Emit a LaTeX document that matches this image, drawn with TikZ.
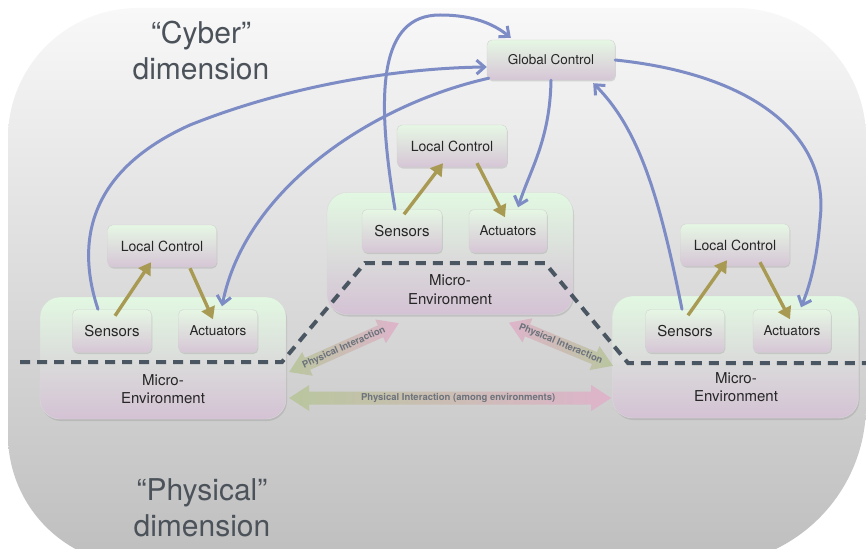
\documentclass[tikz,border=0pt]{standalone}
\usepackage{fontspec}
\setmainfont{TeX Gyre Heros}
\usetikzlibrary{calc,arrows.meta,shadows}
\definecolor{bluea}{HTML}{7E8CC6}
\definecolor{olivea}{HTML}{A89A52}
\definecolor{dashc}{HTML}{4B5663}
\definecolor{boxtop}{HTML}{E6F7E4}
\definecolor{boxbot}{HTML}{D6C6D6}
\definecolor{envtop}{HTML}{E2F8E2}
\definecolor{envbot}{HTML}{D4C2D4}
\definecolor{phgreen}{HTML}{B9C69E}
\definecolor{phpink}{HTML}{DEB4CB}
\definecolor{dimtext}{HTML}{4B525A}
\definecolor{labtext}{HTML}{6C737C}
\definecolor{bgtop}{HTML}{F8F8F8}
\definecolor{bgbot}{HTML}{BEBEBE}
\begin{document}
\begin{tikzpicture}[x=1pt,y=-1pt,
  smallbox/.style={rounded corners=5pt, top color=boxtop, bottom color=boxbot,
    draw=gray!35, line width=0.4pt,
    drop shadow={opacity=0.25,shadow xshift=0.8pt,shadow yshift=-1.5pt},
    inner sep=0pt, text=black!85, minimum height=42pt},
  envbox/.style={rounded corners=20pt, top color=envtop, bottom color=envbot,
    draw=gray!30, line width=0.4pt,
    drop shadow={opacity=0.25,shadow xshift=1pt,shadow yshift=-2pt},
    minimum width=246pt, minimum height=122pt, inner sep=0pt},
  envtext/.style={font=\fontsize{15}{18.5}\selectfont, align=center, text=black!85},
  dimlabel/.style={font=\fontsize{30}{36}\selectfont, align=center, text=dimtext},
  bluearr/.style={draw=bluea, line width=3pt, line cap=round,
    -{Straight Barb[length=8pt,width=14pt,line width=3pt]}},
  olivearr/.style={draw=olivea, line width=3.4pt, -{Triangle[length=12pt,width=14pt]}},
  dashline/.style={draw=dashc, line width=4pt, dash pattern=on 10pt off 7pt},
  phlabel/.style={font=\fontsize{9.5}{11}\selectfont\bfseries, text=labtext, inner sep=0pt, transform shape}
]
\useasboundingbox (0,0) rectangle (866,548);
% background
\shade[top color=bgtop, bottom color=bgbot]
  (8,138) arc(180:270:130) -- (736,8) arc(270:360:130) -- (866,405)
  arc(0:90:160) -- (138,565) arc(90:180:130) -- cycle;

\node[dimlabel] (cyber) at (201,51) {“Cyber”\\dimension};
\node[dimlabel] (physical) at (202,508) {“Physical”\\dimension};

% environments
\node[envbox] (lenv) at (163,358) {};
\node[envbox] (menv) at (450,253.5) {};
\node[envbox] (renv) at (735.5,357) {};
\node[envtext] (lenvt) at (163,389) {Micro-\\Environment};
\node[envtext] (menvt) at (450,289.5) {Micro-\\Environment};
\node[envtext] (renvt) at (736,387) {Micro-\\Environment};

% small boxes
\node[smallbox, minimum width=128pt, minimum height=40pt, font=\fontsize{13.5}{15}\selectfont] (global) at (551,60) {Global Control};
\node[smallbox, minimum width=110pt, font=\fontsize{14}{16}\selectfont] (mlc) at (452,146) {Local Control};
\node[smallbox, minimum width=109pt, font=\fontsize{14}{16}\selectfont] (llc) at (162,246) {Local Control};
\node[smallbox, minimum width=109pt, font=\fontsize{14}{16}\selectfont] (rlc) at (735,245) {Local Control};
\node[smallbox, minimum width=79pt, minimum height=43pt, font=\fontsize{15}{17}\selectfont] (lsens) at (112,331) {Sensors};
\node[smallbox, minimum width=79pt, minimum height=43pt, font=\fontsize{13.5}{15}\selectfont] (lact) at (218,331) {Actuators};
\node[smallbox, minimum width=80pt, minimum height=43pt, font=\fontsize{15}{17}\selectfont] (msens) at (402,231) {Sensors};
\node[smallbox, minimum width=78pt, minimum height=43pt, font=\fontsize{13.5}{15}\selectfont] (mact) at (508,231) {Actuators};
\node[smallbox, minimum width=79pt, minimum height=43pt, font=\fontsize{15}{17}\selectfont] (rsens) at (685,331) {Sensors};
\node[smallbox, minimum width=78pt, minimum height=43pt, font=\fontsize{13.5}{15}\selectfont] (ract) at (792,331) {Actuators};

% dashed boundary
\draw[dashline] (20,362) -- (282,362) -- (365,263) -- (545,263) -- (628,363) -- (866,363);

% physical interaction arrows
\coordinate (pa1) at ($(lenv.east)+(3,14)$);
\coordinate (pb1) at ($(menv.south)+(59,8)$);
\coordinate (pc1) at ($(lenv.east)+(3,40)$);
\begin{scope}[shift={(pa1)}, rotate=24]
  \shade[left color=phgreen, right color=phpink]
    (0,0) -- (20,-13) -- (20,-6.5) -- (100,-6.5) -- (100,-13) -- (120,0)
    -- (100,13) -- (100,6.5) -- (20,6.5) -- (20,13) -- cycle;
  \node[phlabel] (pal) at (60,0) {Physical Interaction};
\end{scope}
\begin{scope}[shift={(pb1)}, rotate=-22.5]
  \shade[left color=phpink, right color=phgreen]
    (0,0) -- (20,-13) -- (20,-6.5) -- (92.5,-6.5) -- (92.5,-13) -- (112.5,0)
    -- (92.5,13) -- (92.5,6.5) -- (20,6.5) -- (20,13) -- cycle;
  \node[phlabel] (pbl) at (56,0) {Physical Interaction};
\end{scope}
\begin{scope}[shift={(pc1)}]
  \shade[left color=phgreen, right color=phpink]
    (0,0) -- (20,-13) -- (20,-6.5) -- (302,-6.5) -- (302,-13) -- (322,0)
    -- (302,13) -- (302,6.5) -- (20,6.5) -- (20,13) -- cycle;
  \node[phlabel] (pcl) at (169,0) {Physical Interaction (among environments)};
\end{scope}

% olive local arrows
\draw[olivearr] ($(lsens.north)+(3,6.5)$) -- ($(llc.south)+(-11,-5)$);
\draw[olivearr] ($(llc.south)+(28,1)$) -- ($(lact.north)+(-5,10)$);
\draw[olivearr] ($(msens.north)+(2,5)$) -- ($(mlc.south)+(-9,-4)$);
\draw[olivearr] ($(mlc.south)+(25,-4)$) -- ($(mact.north)+(-3,8)$);
\draw[olivearr] ($(rsens.north)+(3,6)$) -- ($(rlc.south)+(-8,-6)$);
\draw[olivearr] ($(rlc.south)+(25,-4)$) -- ($(ract.north)+(-2,10)$);

% blue global arrows
\draw[bluearr] ($(lsens.north)+(-14,0)$) .. controls (75,240) and (90,170) .. (190,125)
  .. controls (290,85) and (400,68) .. ($(global.west)+(0,7)$);
\draw[bluearr] ($(global.south west)+(2,-2)$) .. controls (370,105) and (245,190) .. ($(lact.north)+(4,-3)$);
\draw[bluearr] ($(msens.north)+(-7,0)$) .. controls (375,90) and (380,15) .. (440,15)
  .. controls (475,15) and (495,25) .. ($(global.north west)+(24,-2)$);
\draw[bluearr] (global.south) .. controls (550,140) and (530,170) .. ($(mact.north)+(10,-2)$);
\draw[bluearr] ($(rsens.north)+(-3,0)$) .. controls (660,200) and (640,130) .. ($(global.south east)+(-22,3)$);
\draw[bluearr] (global.east) .. controls (760,75) and (830,140) .. (820,220)
  .. controls (817,260) and (810,285) .. ($(ract.north)+(9,-2)$);
\end{tikzpicture}
\end{document}
